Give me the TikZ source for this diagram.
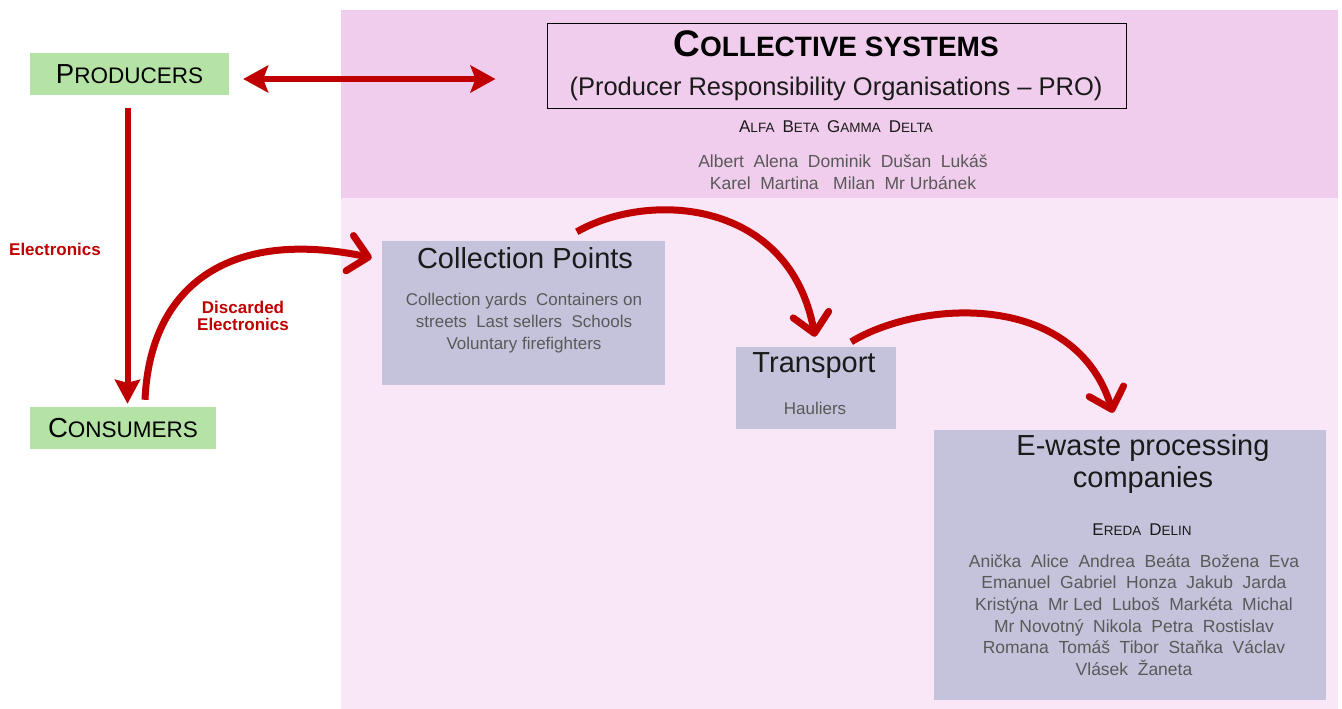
\documentclass[tikz,border=0pt]{standalone}
\usepackage{fontspec}
\setmainfont{Liberation Sans}
\usetikzlibrary{arrows.meta}
\definecolor{arrred}{HTML}{C00000}
\definecolor{pinkA}{RGB}{240,205,236}
\definecolor{pinkB}{RGB}{249,230,246}
\definecolor{greenbox}{RGB}{181,227,165}
\definecolor{lavbox}{RGB}{197,195,219}
\definecolor{nametext}{HTML}{595959}
\definecolor{titletext}{HTML}{1A1A1A}
\newcommand\smc[4]{{\fontsize{#1}{#1}\selectfont #2}{\fontsize{#3}{#3}\selectfont #4}}
\newcommand\gp{\hspace{0.55em}}
\newcommand\gpw{\hspace{0.8em}}
\tikzset{
  actor/.style={fill=greenbox, inner sep=0, minimum width=#1, minimum height=42},
  stagebox/.style={fill=lavbox, inner sep=0},
  title/.style={inner sep=0, text=titletext, font=\fontsize{29}{33}\selectfont, align=center},
  names/.style={inner sep=0, text=nametext, align=center},
  flow/.style={draw=arrred, line width=7, -{Straight Barb[length=19pt,width=36pt,round]}},
  lbl/.style={inner sep=0, text=arrred, font=\bfseries\fontsize{17}{17.5}\selectfont, align=center}
}
\begin{document}
\begin{tikzpicture}[x=1pt,y=-1pt]
\useasboundingbox (0,0) rectangle (1342,709);
\fill[pinkA] (341,10) rectangle (1338,198);
\fill[pinkB] (341,198) rectangle (1338,709);

% actors
\node[actor=199] (prod) at (129.5,74) {\smc{27.5}{P}{22.5}{RODUCERS}};
\node[actor=186] (cons) at (123,428) {\smc{27.5}{C}{22.5}{ONSUMERS}};

% collective systems
\node[draw=black, line width=1, inner sep=0, minimum width=579, minimum height=84] (cs) at (836.5,66) {};
\node[inner sep=0, text=black] (cstitle) at (836,44) {\bfseries\smc{37}{C}{28}{OLLECTIVE SYSTEMS}};
\node[inner sep=0, text=titletext, font=\fontsize{25.5}{28}\selectfont] (cssub) at (836,89) {(Producer Responsibility Organisations -- PRO)};
\node[inner sep=0, text=titletext] (pros) at (836,127) {\smc{17}{A}{13.5}{LFA}\gpw\smc{17}{B}{13.5}{ETA}\gpw\smc{17}{G}{13.5}{AMMA}\gpw\smc{17}{D}{13.5}{ELTA}};
\node[names, font=\fontsize{17.5}{22}\selectfont] (prenames) at (843,172) {Albert\gp Alena\gp Dominik\gp Dušan\gp Lukáš\\Karel\gp Martina\gp\ Milan\gp Mr Urbánek};

% collection points
\node[stagebox, minimum width=283, minimum height=144] (coll) at (523.5,313) {};
\node[title] (colltitle) at (525,258) {Collection Points};
\node[names, font=\fontsize{17}{22}\selectfont] (collnames) at (524,323) {Collection yards\gp Containers on\\streets\gp Last sellers\gp Schools\\Voluntary firefighters};

% transport
\node[stagebox, minimum width=160, minimum height=82] (trans) at (816,388) {};
\node[title] (transtitle) at (814,366) {Transport};
\node[names, font=\fontsize{17}{20}\selectfont] (haul) at (815,408) {Hauliers};

% e-waste
\node[stagebox, minimum width=392, minimum height=270] (ew) at (1130,565) {};
\node[title, font=\fontsize{29}{32}\selectfont] (ewtitle) at (1143,464) {E-waste processing\\companies};
\node[inner sep=0, text=titletext] (ewfirms) at (1142,530) {\smc{17}{E}{13.5}{REDA}\gpw\smc{17}{D}{13.5}{ELIN}};
\node[names, font=\fontsize{17.5}{21.7}\selectfont] (ewnames) at (1134,615) {Anička\gp Alice\gp Andrea\gp Beáta\gp Božena\gp Eva\\Emanuel\gp Gabriel\gp Honza\gp Jakub\gp Jarda\\Kristýna\gp Mr Led\gp Luboš\gp Markéta\gp Michal\\Mr Novotný\gp Nikola\gp Petra\gp Rostislav\\Romana\gp Tomáš\gp Tibor\gp Staňka\gp Václav\\Vlásek\gp Žaneta};

% labels
\node[lbl] (lblelec) at (55,249) {Electronics};
\node[lbl] (lbldisc) at (243,316) {Discarded\\Electronics};

% arrows
\coordinate (cstip) at ([shift={(-51,13)}]cs.west);
\draw[arrred, line width=6.5, {Stealth[length=25pt,width=27pt,inset=5pt]}-{Stealth[length=25pt,width=27pt,inset=5pt]}] ([shift={(14,5)}]prod.east) -- (cstip);
\draw[arrred, line width=6, -{Stealth[length=24pt,width=25pt,inset=3pt]}] ([shift={(-2,13)}]prod.south) -- ([shift={(4.5,-3)}]cons.north);
\draw[flow] ([shift={(22,-7)}]cons.north) .. controls (150,285) and (230,228) .. ([shift={(-10,17)}]coll.north west);
\draw[flow] ([shift={(195,-9)}]coll.north west) .. controls (650,190) and (790,200) .. ([shift={(-1,-10)}]trans.north);
\draw[flow] ([shift={(-45,-5)}]trans.north east) .. controls (920,300) and (1075,290) .. ([shift={(-17,-17)}]ew.north);
\end{tikzpicture}
\end{document}
